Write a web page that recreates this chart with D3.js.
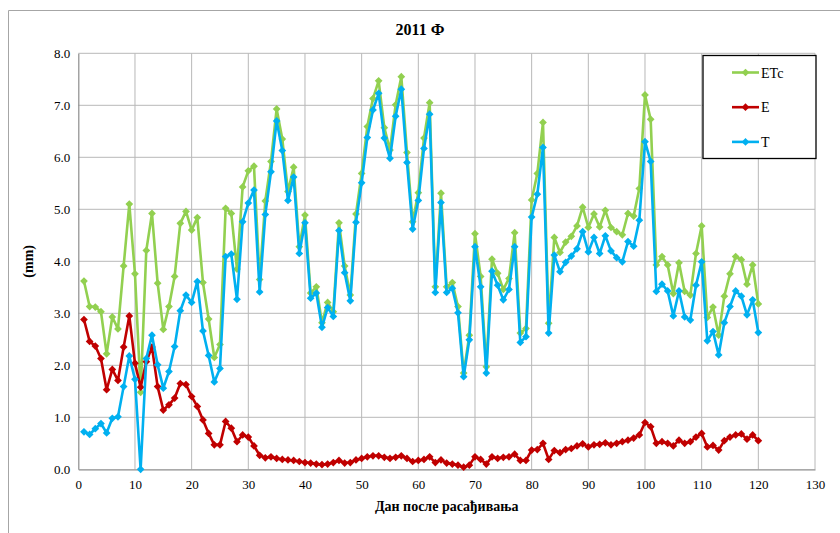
<!DOCTYPE html>
<html>
<head>
<meta charset="utf-8">
<script src="https://cdn.jsdelivr.net/npm/d3@7"></script>
<style>
  html, body { margin: 0; padding: 0; background: #fff; }
  svg { display: block; }
  text { font-family: "Liberation Serif", "Times New Roman", serif; fill: #000; }
</style>
</head>
<body>
<svg id="chart" width="840" height="533"></svg>
<script>
const title = "2011 Ф";
const xTitle = "Дан после расађивања";
const yTitle = "(mm)";
const xTicks = [0,10,20,30,40,50,60,70,80,90,100,110,120,130];
const yTicks = [0,1,2,3,4,5,6,7,8];
const seriesNames = ["ETc", "E", "T"];
const seriesColors = ["#92d050", "#c00000", "#00b0f0"];

const days = Array.from({length: 120}, (_, i) => i + 1);

const etc = [3.62,3.13,3.12,3.03,2.22,2.93,2.70,3.91,5.10,3.76,
             1.48,4.21,4.92,3.58,2.69,3.13,3.71,4.73,4.96,4.60,
             4.84,3.59,2.89,2.15,2.40,5.02,4.92,3.85,5.43,5.74,
             5.83,3.65,5.16,5.92,6.93,6.35,5.34,5.81,4.28,4.89,
             3.39,3.51,2.82,3.21,3.03,4.74,3.91,3.35,4.91,5.69,
             6.59,7.13,7.47,6.57,6.14,7.01,7.55,6.09,4.76,5.32,
             6.37,7.05,3.51,5.31,3.51,3.59,3.13,1.85,2.58,4.53,
             3.71,1.97,4.04,3.77,3.46,3.67,4.55,2.62,2.71,5.18,
             5.69,6.67,2.81,4.46,4.17,4.37,4.48,4.68,5.04,4.65,
             4.91,4.66,4.98,4.65,4.57,4.51,4.92,4.87,5.40,7.20,
             6.73,3.93,4.09,3.93,3.38,3.97,3.42,3.35,4.15,4.68,
             2.92,3.12,2.58,3.33,3.76,4.09,4.03,3.56,3.93,3.18];

const e = [2.88,2.46,2.37,2.13,1.53,1.92,1.71,2.35,2.95,2.04,
           1.58,2.07,2.35,1.59,1.14,1.24,1.37,1.65,1.63,1.40,
           1.21,0.95,0.69,0.47,0.47,0.92,0.79,0.53,0.66,0.62,
           0.45,0.27,0.22,0.24,0.21,0.19,0.18,0.17,0.15,0.13,
           0.12,0.10,0.09,0.10,0.13,0.17,0.12,0.13,0.18,0.21,
           0.24,0.26,0.26,0.23,0.21,0.23,0.26,0.21,0.15,0.17,
           0.19,0.24,0.13,0.18,0.12,0.10,0.08,0.04,0.08,0.24,
           0.19,0.10,0.24,0.21,0.23,0.24,0.29,0.17,0.17,0.37,
           0.38,0.50,0.19,0.36,0.32,0.38,0.40,0.45,0.49,0.43,
           0.47,0.48,0.51,0.47,0.50,0.53,0.56,0.60,0.66,0.90,
           0.82,0.50,0.53,0.50,0.45,0.56,0.50,0.53,0.62,0.69,
           0.43,0.46,0.37,0.55,0.62,0.66,0.68,0.58,0.66,0.55];

const t = [0.72,0.67,0.78,0.88,0.70,0.98,1.01,1.59,2.18,1.73,
           0.00,2.13,2.58,2.01,1.56,1.88,2.36,3.05,3.35,3.21,
           3.61,2.66,2.19,1.68,1.94,4.09,4.14,3.27,4.76,5.12,
           5.37,3.41,4.90,5.72,6.70,6.13,5.17,5.62,4.15,4.74,
           3.29,3.39,2.73,3.11,2.94,4.59,3.78,3.24,4.75,5.51,
           6.38,6.91,7.23,6.37,5.98,6.79,7.31,5.90,4.62,5.17,
           6.17,6.83,3.40,5.13,3.40,3.48,3.01,1.78,2.49,4.28,
           3.51,1.85,3.81,3.54,3.26,3.46,4.28,2.44,2.55,4.85,
           5.29,6.19,2.62,4.12,3.80,3.98,4.10,4.24,4.57,4.18,
           4.46,4.15,4.49,4.20,4.07,3.99,4.38,4.29,4.79,6.30,
           5.92,3.42,3.56,3.43,2.95,3.43,2.93,2.87,3.54,3.99,
           2.47,2.65,2.20,2.82,3.13,3.43,3.33,2.97,3.26,2.63];

const seriesValues = [etc, e, t];

const svg = d3.select("#chart");
const W = 840, H = 533;
const plot = {left: 78.3, right: 815, top: 53.3, bottom: 469.3};

// outer chart frame (partially visible)
svg.append("path")
  .attr("d", `M8.5,${H} L8.5,10.5 L${W},10.5`)
  .attr("fill", "none").attr("stroke", "#a6a6a6").attr("stroke-width", 1);

const x = d3.scaleLinear().domain([0, 130]).range([plot.left, plot.right]);
const y = d3.scaleLinear().domain([0, 8]).range([plot.bottom, plot.top]);

// grid
const grid = svg.append("g");
grid.selectAll("line.v").data(xTicks.filter(d => d > 0)).enter().append("line")
  .attr("x1", d => x(d)).attr("x2", d => x(d))
  .attr("y1", plot.top).attr("y2", plot.bottom)
  .attr("stroke", "#b8b8b8").attr("stroke-width", 1);
grid.selectAll("line.h").data(yTicks.filter(d => d > 0)).enter().append("line")
  .attr("x1", plot.left).attr("x2", plot.right)
  .attr("y1", d => y(d)).attr("y2", d => y(d))
  .attr("stroke", "#b8b8b8").attr("stroke-width", 1);

// axes
const xAxis = d3.axisBottom(x).tickValues(xTicks).tickSize(0).tickPadding(10).tickFormat(d3.format("d"));
const gx = svg.append("g").attr("transform", `translate(0,${plot.bottom})`).call(xAxis);
gx.select(".domain").attr("stroke", "#8c8c8c").attr("stroke-width", 1.2);
gx.selectAll("text").attr("font-size", 13).attr("font-family", "Liberation Serif, serif");

const yAxis = d3.axisLeft(y).tickValues(yTicks).tickSize(0).tickPadding(8).tickFormat(d3.format(".1f"));
const gy = svg.append("g").attr("transform", `translate(${plot.left},0)`).call(yAxis);
gy.select(".domain").attr("stroke", "#8c8c8c").attr("stroke-width", 1.2);
gy.selectAll("text").attr("font-size", 13).attr("font-family", "Liberation Serif, serif");

// titles
svg.append("text").attr("x", 420).attr("y", 35).attr("text-anchor", "middle")
  .attr("font-size", 16).attr("font-weight", "bold").text(title);
svg.append("text").attr("x", (plot.left + plot.right) / 2).attr("y", 511).attr("text-anchor", "middle")
  .attr("font-size", 14).attr("font-weight", "bold").text(xTitle);
svg.append("text").attr("transform", `translate(33,${(plot.top + plot.bottom) / 2}) rotate(-90)`)
  .attr("text-anchor", "middle").attr("font-size", 14).attr("font-weight", "bold").text(yTitle);

// series
const line = d3.line().x((d, i) => x(days[i])).y(d => y(d));
const marker = d3.symbol().type(d3.symbolSquare).size(30);

seriesValues.forEach((vals, si) => {
  const g = svg.append("g");
  g.append("path").attr("d", line(vals))
    .attr("fill", "none").attr("stroke", seriesColors[si]).attr("stroke-width", 2.6)
    .attr("stroke-linejoin", "round");
  g.selectAll("path.m").data(vals).enter().append("path")
    .attr("d", marker)
    .attr("transform", (d, i) => `translate(${x(days[i])},${y(d)}) rotate(45)`)
    .attr("fill", seriesColors[si]);
});

// legend
const lg = svg.append("g");
lg.append("rect").attr("x", 703).attr("y", 55.5).attr("width", 113).attr("height", 103)
  .attr("fill", "#fff").attr("stroke", "#000").attr("stroke-width", 1.3);
seriesNames.forEach((name, i) => {
  const ly = 72.5 + i * 34.7;
  lg.append("line").attr("x1", 732).attr("x2", 759).attr("y1", ly).attr("y2", ly)
    .attr("stroke", seriesColors[i]).attr("stroke-width", 2.6);
  lg.append("path").attr("d", marker).attr("transform", `translate(745.5,${ly}) rotate(45)`)
    .attr("fill", seriesColors[i]);
  lg.append("text").attr("x", 761).attr("y", ly + 5).attr("font-size", 14).text(name);
});
</script>
</body>
</html>
